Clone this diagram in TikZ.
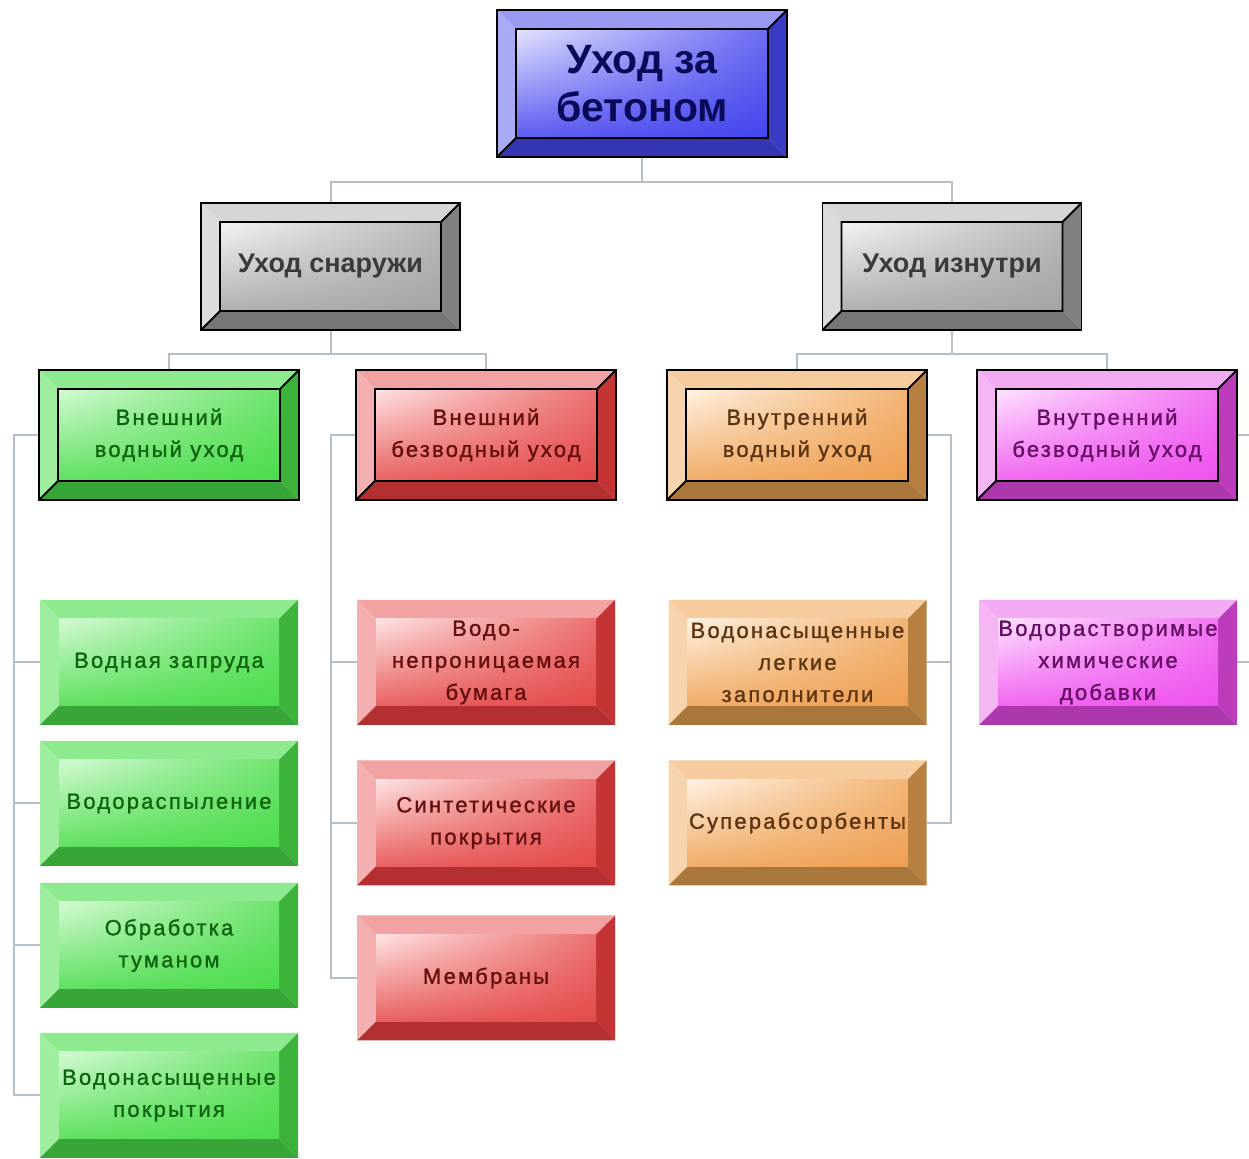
\documentclass[tikz,border=0pt]{standalone}
\usepackage{fontspec}
\setmainfont{Liberation Sans}
\newfontfamily\boxfont[LetterSpace=10, FakeBold=1.2]{Liberation Sans}
\usetikzlibrary{positioning,shadings}

% palettes: light bevel, dark bevel, face light, face dark, text
\definecolor{blueBL}{HTML}{9A9AF2}\definecolor{blueBD}{HTML}{3A3AC4}
\definecolor{blueFL}{HTML}{E4E4FF}\definecolor{blueFD}{HTML}{4444EE}
\definecolor{blueTX}{HTML}{0A0A5A}
\definecolor{grayBL}{HTML}{D6D6D6}\definecolor{grayBD}{HTML}{808080}
\definecolor{grayFL}{HTML}{F4F4F4}\definecolor{grayFD}{HTML}{A4A4A4}
\definecolor{grayTX}{HTML}{3A3A3A}
\definecolor{greenBL}{HTML}{8EEA8E}\definecolor{greenBD}{HTML}{3CB43C}
\definecolor{greenFL}{HTML}{D4FAD4}\definecolor{greenFD}{HTML}{4CDC4C}
\definecolor{greenTX}{HTML}{0E640E}
\definecolor{redBL}{HTML}{F2A2A2}\definecolor{redBD}{HTML}{C43434}
\definecolor{redFL}{HTML}{FFE4E4}\definecolor{redFD}{HTML}{E44A4A}
\definecolor{redTX}{HTML}{640E0E}
\definecolor{orangeBL}{HTML}{F6CC9E}\definecolor{orangeBD}{HTML}{B88040}
\definecolor{orangeFL}{HTML}{FFF2E4}\definecolor{orangeFD}{HTML}{EEA052}
\definecolor{orangeTX}{HTML}{5A3410}
\definecolor{magentaBL}{HTML}{F2AAF2}\definecolor{magentaBD}{HTML}{BC3CBC}
\definecolor{magentaFL}{HTML}{FFE4FF}\definecolor{magentaFD}{HTML}{EE52EE}
\definecolor{magentaTX}{HTML}{640E64}
\definecolor{connGray}{HTML}{B6BECA}

\newcommand{\usepal}[1]{\colorlet{BL}{#1BL}\colorlet{BD}{#1BD}\colorlet{FL}{#1FL}\colorlet{FD}{#1FD}}
\newcommand{\bevelfaces}{%
  \coordinate (A) at (path picture bounding box.north west);
  \coordinate (B) at (path picture bounding box.north east);
  \coordinate (C) at (path picture bounding box.south east);
  \coordinate (D) at (path picture bounding box.south west);
  \coordinate (a) at ([shift={(9.5pt,-9.5pt)}]A);
  \coordinate (b) at ([shift={(-9.5pt,-9.5pt)}]B);
  \coordinate (c) at ([shift={(-9.5pt,9.5pt)}]C);
  \coordinate (d) at ([shift={(9.5pt,9.5pt)}]D);
  \fill[BL] (A) -- (B) -- (b) -- (a) -- cycle;
  \fill[BL!85!white] (A) -- (a) -- (d) -- (D) -- cycle;
  \fill[BD] (B) -- (C) -- (c) -- (b) -- cycle;
  \fill[BD!92!black] (D) -- (d) -- (c) -- (C) -- cycle;
  \shade[upper left=FL, upper right=FD!75!FL, lower left=FD!85!FL, lower right=FD] (a) rectangle (c);
}
\newcommand{\rootfont}{\fontsize{20.5}{24}\selectfont\bfseries}
\newcommand{\midfont}{\fontsize{13.5}{15}\selectfont\bfseries}
\newcommand{\leaffont}{\boxfont\fontsize{11}{16}\selectfont}

\tikzset{pal/.style = {/utils/exec={\usepal{#1}}, text=#1TX}}
\tikzset{lvl/.style = {rectangle, draw=black, line width=0.9pt, inner sep=0pt, align=center,
  minimum width=130pt, minimum height=65pt, font=\leaffont,
  path picture={\bevelfaces \draw[line width=0.9pt] (a) rectangle (c) (B) -- (b) (D) -- (d);}}}
\tikzset{leaf/.style = {rectangle, inner sep=0pt, align=center,
  minimum width=129pt, minimum height=62.5pt, font=\leaffont, path picture={\bevelfaces}}}
\tikzset{conn/.style = {draw=connGray, line width=1pt}}

\begin{document}
\begin{tikzpicture}[x=0.5pt, y=-0.5pt]
  \fill[white] (0,0) rectangle (1249,1159);
  \useasboundingbox (0,0) rectangle (1249,1159);

  \node [lvl, pal=blue, minimum width=145pt, minimum height=73.5pt, font=\rootfont] (care) at (642,83.5) {Уход за\\бетоном};
  \node [lvl, pal=gray, minimum width=129.5pt, minimum height=63.5pt, font=\midfont] (outside) at (330.5,266.5) {Уход снаружи};
  \node [lvl, pal=gray, minimum width=129.5pt, minimum height=63.5pt, font=\midfont] (inside) at (952,266.5) {Уход изнутри};

  \node [lvl, pal=green] (extwet) at (169,435) {Внешний\\водный уход};
  \node [lvl, pal=red] (extdry) at (486,435) {Внешний\\безводный уход};
  \node [lvl, pal=orange] (intwet) at (797,435) {Внутренний\\водный уход};
  \node [lvl, pal=magenta] (intdry) at (1107,435) {Внутренний\\безводный уход};

  \node [leaf, pal=green] (pond) at (169,662.5) {Водная запруда};
  \node [leaf, pal=green] (spray) at (169,803.5) {Водораспыление};
  \node [leaf, pal=green] (fog) at (169,945.5) {Обработка\\туманом};
  \node [leaf, pal=green] (wetcover) at (169,1095.5) {Водонасыщенные\\покрытия};

  \node [leaf, pal=red] (paper) at (486,662.5) {Водо-\\непроницаемая\\бумага};
  \node [leaf, pal=red] (synth) at (486,823) {Синтетические\\покрытия};
  \node [leaf, pal=red] (membr) at (486,978) {Мембраны};

  \node [leaf, pal=orange] (aggr) at (797.5,662.5) {Водонасыщенные\\легкие\\заполнители};
  \node [leaf, pal=orange] (sap) at (797.5,823) {Суперабсорбенты};

  \node [leaf, pal=magenta] (chem) at (1108,662.5) {Водорастворимые\\химические\\добавки};

  \draw[conn] (care.south) -- ++(0,-12pt) -| (outside.north);
  \draw[conn] (care.south) -- ++(0,-12pt) -| (inside.north);
  \draw[conn] (outside.south) -- ++(0,-11.5pt) -| (extwet.north);
  \draw[conn] (outside.south) -- ++(0,-11.5pt) -| (extdry.north);
  \draw[conn] (inside.south) -- ++(0,-11.5pt) -| (intwet.north);
  \draw[conn] (inside.south) -- ++(0,-11.5pt) -| (intdry.north);

  \foreach \leafname in {pond,spray,fog,wetcover}
    \draw[conn] (extwet.west) -- ++(-12pt,0) |- (\leafname.west);
  \foreach \leafname in {paper,synth,membr}
    \draw[conn] (extdry.west) -- ++(-12pt,0) |- (\leafname.west);
  \foreach \leafname in {aggr,sap}
    \draw[conn] (intwet.east) -- ++(11.5pt,0) |- (\leafname.east);
  \draw[conn] (intdry.east) -- ++(12pt,0) |- (chem.east);
\end{tikzpicture}
\end{document}
